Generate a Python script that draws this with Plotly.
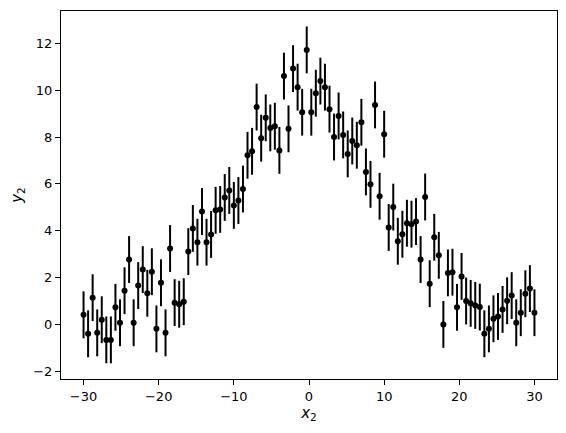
import plotly.graph_objects as go

# measured points, errors are a constant 1
x_start, x_stop, n_points = -30, 30, 100
y_values = [
    0.41, -0.40, 1.14, -0.36, 0.20, -0.66, -0.66, 0.73, 0.07, 1.44,
    2.77, 0.07, 1.66, 2.34, 1.33, 2.25, -0.19, 1.78, -0.36, 3.24,
    0.93, 0.86, 0.97, 3.11, 4.10, 3.51, 4.82, 3.51, 3.84, 4.87,
    4.91, 5.42, 5.72, 5.08, 5.29, 5.78, 7.22, 7.39, 9.28, 7.95,
    8.82, 8.39, 8.46, 7.43, 10.60, 8.35, 10.92, 10.13, 9.06, 11.72,
    9.06, 9.87, 10.39, 10.13, 9.19, 8.00, 8.90, 8.09, 7.28, 7.83,
    7.65, 8.63, 6.51, 5.98, 9.37, 5.47, 8.12, 4.14, 5.01, 3.55,
    3.85, 4.32, 4.28, 4.39, 2.77, 5.44, 1.74, 3.72, 2.95, 0.00,
    2.20, 2.23, 0.73, 2.05, 1.00, 0.90, 0.81, 0.74, -0.40, -0.19,
    0.24, 0.34, 0.64, 1.01, 1.23, 0.07, 0.50, 1.31, 1.53, 0.50,
]
y_errors = [1.0] * n_points
x_values = [x_start + (x_stop - x_start) * i / (n_points - 1) for i in range(n_points)]

x_ticks = [-30, -20, -10, 0, 10, 20, 30]
y_ticks = [-2, 0, 2, 4, 6, 8, 10, 12]

fig = go.Figure()
fig.add_trace(
    go.Scatter(
        x=x_values,
        y=y_values,
        mode='markers',
        marker=dict(color='black', size=6),
        error_y=dict(type='data', array=y_errors, visible=True,
                     color='black', thickness=2, width=0),
        showlegend=False
    )
)

axis_style = dict(
    showline=True, linecolor='black', linewidth=1, mirror=True,
    ticks='outside', ticklen=5, tickwidth=1, tickcolor='black',
    showgrid=False, zeroline=False, automargin=False,
    tickfont=dict(family='DejaVu Sans', size=13, color='black'),
)

# page body has an 8px margin, so the figure is 8px smaller and shifted
fig.update_layout(
    width=558, height=425,
    margin=dict(l=53, r=9, t=3, b=54),
    plot_bgcolor='white', paper_bgcolor='white',
    font=dict(family='DejaVu Sans', size=13, color='black'),
    xaxis=dict(range=[-33, 33], tickvals=x_ticks,
               ticktext=[str(t).replace('-', '\u2212') for t in x_ticks],
               title=dict(text='<i>x</i><sub>2</sub>', standoff=1,
                          font=dict(size=15)), **axis_style),
    yaxis=dict(range=[-2.33, 13.38], tickvals=y_ticks,
               ticktext=[str(t).replace('-', '\u2212') for t in y_ticks],
               title=dict(text='<i>y</i><sub>2</sub>', standoff=9,
                          font=dict(size=15)), **axis_style),
)

fig.write_html("out.html")
